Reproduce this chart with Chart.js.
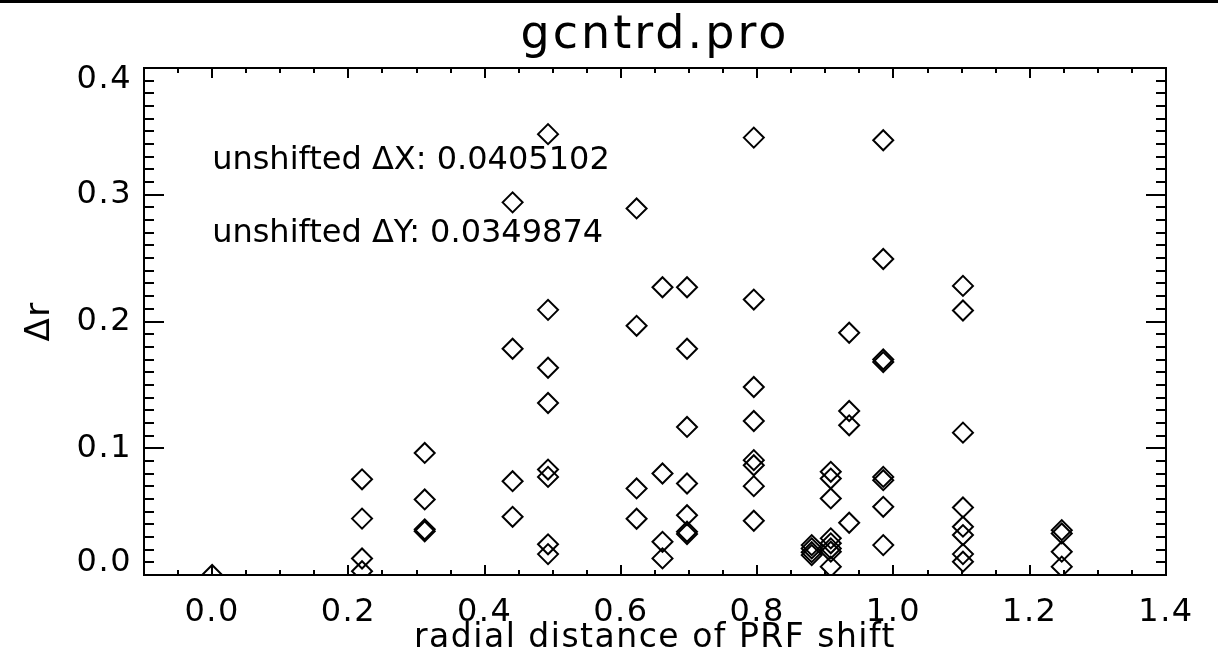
<!DOCTYPE html>
<html lang="en">
<head>
<meta charset="UTF-8">
<title>gcntrd.pro</title>
<script src="https://cdn.jsdelivr.net/npm/chart.js"></script>
<style>
  body { margin: 0; background: #fff; }
  #wrap { position: relative; width: 1218px; height: 672px; }
  #topbar { position: absolute; left: 0; top: 0; width: 1218px; height: 3px; background: #000; }
  canvas { display: block; }
</style>
</head>
<body>
<div id="wrap">
  <canvas id="scatterChart" width="1218" height="672"></canvas>
  <div id="topbar"></div>
</div>
<script>
  // radial distance of the PRF shift (x) and the centroid error (y), one entry per point
  const shiftX = [
    0.000,
    0.220, 0.220, 0.220, 0.220,
    0.312, 0.312, 0.312, 0.312,
    0.441, 0.441, 0.441, 0.441,
    0.493, 0.493, 0.493, 0.493, 0.493, 0.493, 0.493, 0.493,
    0.623, 0.623, 0.623, 0.623,
    0.661, 0.661, 0.661, 0.661,
    0.697, 0.697, 0.697, 0.697, 0.697, 0.697, 0.697,
    0.795, 0.795, 0.795, 0.795, 0.795, 0.795, 0.795, 0.795,
    0.880, 0.880, 0.880, 0.880,
    0.908, 0.908, 0.908, 0.908, 0.908, 0.908, 0.908, 0.908,
    0.935, 0.935, 0.935, 0.935,
    0.985, 0.985, 0.985, 0.985, 0.985, 0.985, 0.985, 0.985,
    1.102, 1.102, 1.102, 1.102, 1.102, 1.102, 1.102, 1.102,
    1.247, 1.247, 1.247, 1.247
  ];
  const deltaR = [
    0.000,
    0.0755, 0.0445, 0.0130, 0.0030,
    0.0963, 0.0596, 0.0360, 0.0345,
    0.2940, 0.1785, 0.0740, 0.0459,
    0.3478, 0.2092, 0.1635, 0.1357, 0.0832, 0.0774, 0.0242, 0.0165,
    0.2892, 0.1966, 0.0683, 0.0444,
    0.2270, 0.0801, 0.0262, 0.0131,
    0.2270, 0.1785, 0.1168, 0.0722, 0.0472, 0.0341, 0.0323,
    0.3451, 0.2173, 0.1483, 0.1215, 0.0906, 0.0866, 0.0701, 0.0428,
    0.0236, 0.0210, 0.0180, 0.0157,
    0.0814, 0.0761, 0.0604, 0.0289, 0.0250, 0.0210, 0.0184, 0.0066,
    0.1911, 0.1294, 0.1181, 0.0412,
    0.3430, 0.2493, 0.1700, 0.1680, 0.0774, 0.0748, 0.0538, 0.0236,
    0.2281, 0.2087, 0.1123, 0.0533, 0.0381, 0.0315, 0.0165, 0.0105,
    0.0354, 0.0328, 0.0184, 0.0066
  ];

  const xTicks = [0.0, 0.2, 0.4, 0.6, 0.8, 1.0, 1.2, 1.4];
  const yTicks = [0.0, 0.1, 0.2, 0.3, 0.4];
  const noteText = ['unshifted \u0394X: 0.0405102', 'unshifted \u0394Y: 0.0349874'];
  const noteY = [0.32, 0.2625];

  const FONT = '"DejaVu Sans", sans-serif';

  // IDL style frame: inward ticks on all four sides, title and notes
  const idlFrame = {
    id: 'idlFrame',
    beforeDraw(chart) {
      chart.ctx.letterSpacing = '1.5px';
      // keep the end labels of the y axis inside the frame
      const items = chart.scales.y.getLabelItems();
      if (!items.shifted) {
        items[0].options.translation[1] -= 12;
        items[items.length - 1].options.translation[1] += 12;
        items.shifted = true;
      }
    },
    afterDraw(chart) {
      const { ctx, chartArea: a, scales: { x, y } } = chart;
      ctx.save();
      ctx.strokeStyle = '#000';
      ctx.lineWidth = 2;
      ctx.beginPath();
      ctx.moveTo(a.left, a.top);
      ctx.lineTo(a.right, a.top);
      ctx.lineTo(a.right, a.bottom);
      for (let i = 0; i <= 30; i++) {
        const v = -0.1 + i * 0.05;
        const px = Math.round(x.getPixelForValue(v));
        const q = v / 0.2;
        const len = Math.abs(q - Math.round(q)) < 1e-6 ? 10 : 5;
        ctx.moveTo(px, a.bottom); ctx.lineTo(px, a.bottom - len);
        ctx.moveTo(px, a.top); ctx.lineTo(px, a.top + len);
      }
      for (let i = 0; i <= 40; i++) {
        const py = Math.round(y.getPixelForValue(i * 0.01));
        const len = i % 10 === 0 ? 20 : 10;
        ctx.moveTo(a.left, py); ctx.lineTo(a.left + len, py);
        ctx.moveTo(a.right, py); ctx.lineTo(a.right - len, py);
      }
      ctx.stroke();

      ctx.fillStyle = '#000';
      ctx.textBaseline = 'alphabetic';
      ctx.letterSpacing = '3px';
      ctx.font = '46px ' + FONT;
      ctx.textAlign = 'center';
      ctx.fillText('gcntrd.pro', (a.left + a.right) / 2, 48);

      ctx.letterSpacing = '0px';
      ctx.font = '32px ' + FONT;
      ctx.textAlign = 'left';
      noteText.forEach((t, i) => {
        ctx.fillText(t, x.getPixelForValue(0), y.getPixelForValue(noteY[i]));
      });
      ctx.restore();
    }
  };

  const points = shiftX.map((v, i) => ({ x: v, y: deltaR[i] }));

  new Chart(document.getElementById('scatterChart').getContext('2d'), {
    type: 'scatter',
    data: {
      datasets: [{
        data: points,
        pointStyle: 'rectRot',
        pointRadius: 10,
        pointHoverRadius: 10,
        pointBorderWidth: 2,
        pointBorderColor: '#000',
        pointBackgroundColor: 'rgba(0,0,0,0)',
        clip: 0
      }]
    },
    options: {
      responsive: false,
      devicePixelRatio: 1,
      animation: false,
      events: [],
      layout: { padding: { top: 68, right: 52, left: 0, bottom: 0 } },
      plugins: {
        legend: { display: false },
        tooltip: { enabled: false },
        title: { display: false }
      },
      scales: {
        x: {
          type: 'linear',
          min: -0.1,
          max: 1.4,
          afterBuildTicks: s => { s.ticks = xTicks.map(v => ({ value: v })); },
          afterFit: s => { s.height = 97; },
          grid: { display: false, drawTicks: false },
          border: { display: true, color: '#000', width: 2 },
          ticks: {
            color: '#000',
            font: { family: FONT, size: 32 },
            padding: 18,
            maxRotation: 0,
            autoSkip: false,
            callback: v => Number(v).toFixed(1)
          },
          title: {
            display: true,
            text: 'radial distance of PRF shift',
            color: '#000',
            font: { family: FONT, size: 33 },
            padding: { top: 0, bottom: 14 }
          }
        },
        y: {
          type: 'linear',
          min: 0,
          max: 0.4,
          afterBuildTicks: s => { s.ticks = yTicks.map(v => ({ value: v })); },
          afterFit: s => { s.width = 144; },
          grid: { display: false, drawTicks: false },
          border: { display: true, color: '#000', width: 2 },
          ticks: {
            color: '#000',
            font: { family: FONT, size: 32 },
            padding: 12,
            callback: v => Number(v).toFixed(1)
          },
          title: {
            display: true,
            text: '\u0394r',
            color: '#000',
            font: { family: FONT, size: 34 },
            padding: { top: 20, bottom: 0 }
          }
        }
      }
    },
    plugins: [idlFrame]
  });
</script>
</body>
</html>
